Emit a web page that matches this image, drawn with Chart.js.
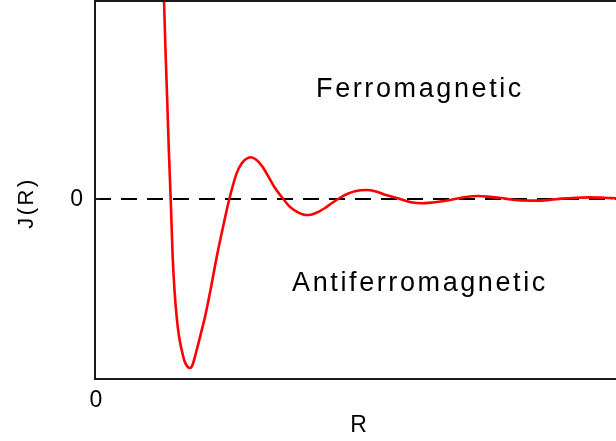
<!DOCTYPE html>
<html>
<head>
<meta charset="utf-8">
<script src="https://cdn.jsdelivr.net/npm/chart.js@4"></script>
<style>
  html, body { margin: 0; padding: 0; background: #fff; }
  #wrap { width: 616px; height: 441px; }
</style>
</head>
<body>
<div id="wrap"><canvas id="rkkyChart" width="616" height="441"></canvas></div>
<script>
// RKKY exchange coupling J(R) vs distance R (arbitrary units)
const rValues = [1.313, 1.353, 1.386, 1.417, 1.453, 1.491, 1.526, 1.568, 1.612, 1.664,
    1.718, 1.775, 1.823, 1.871, 1.952, 2.025, 2.111, 2.217, 2.336, 2.457,
    2.578, 2.720, 2.821, 2.898, 2.994, 3.090, 3.205, 3.321, 3.455, 3.614,
    3.743, 3.877, 3.992, 4.107, 4.242, 4.415, 4.549, 4.664, 4.818, 5.010,
    5.202, 5.393, 5.585, 5.854, 6.065, 6.276, 6.488, 6.699, 6.910, 7.121,
    7.351, 7.582, 7.869, 8.119, 8.407, 8.695, 8.964, 9.232, 9.501, 9.770, 10.0];
const jValues = [12.17, 8.28, 5.50, 2.72, 0, -3.22, -5.06, -6.56, -7.61, -8.39,
    -9.00, -9.31, -9.39, -9.22, -8.39, -7.56, -6.56, -5.06, -3.22, -1.56,
    0, 1.44, 2.00, 2.22, 2.32, 2.19, 1.83, 1.28, 0.61, 0,
    -0.44, -0.72, -0.86, -0.89, -0.78, -0.50, -0.22, 0, 0.25, 0.44,
    0.50, 0.42, 0.22, 0, -0.18, -0.24, -0.19, -0.11, 0, 0.11,
    0.17, 0.12, 0.02, -0.07, -0.09, -0.06, 0.02, 0.07, 0.09, 0.07, 0.04];

const rRange = [0, 10];
const jRange = [-10, 11];
const yTickLabels = ['0'];
const xTickLabels = ['0'];
const regionLabels = ['Ferromagnetic', 'Antiferromagnetic'];

const FONT = '"Liberation Sans", Arial, sans-serif';

// Frame, ticks, axis titles and region labels
const decorations = {
    id: 'decorations',
    afterDraw(chart) {
        const { ctx, chartArea, scales } = chart;
        const { left, right, top, bottom } = chartArea;
        const zeroY = scales.y.getPixelForValue(0);
        const zeroX = scales.x.getPixelForValue(0);

        ctx.save();
        ctx.strokeStyle = '#1a1a1a';
        ctx.lineWidth = 2;
        ctx.beginPath();
        ctx.moveTo(right + 2, top);
        ctx.lineTo(left, top);
        ctx.lineTo(left, bottom);
        ctx.lineTo(right + 2, bottom);
        ctx.stroke();

        // small tick at zero on the J axis
        ctx.beginPath();
        ctx.moveTo(left, zeroY);
        ctx.lineTo(left + 5, zeroY);
        ctx.stroke();

        ctx.fillStyle = '#000';
        ctx.font = '23px ' + FONT;
        ctx.textBaseline = 'middle';
        ctx.textAlign = 'right';
        ctx.fillText(yTickLabels[0], left - 12, zeroY + 1);
        ctx.textAlign = 'center';
        ctx.fillText(xTickLabels[0], zeroX + 1, bottom + 22);

        ctx.font = '23px ' + FONT;
        ctx.textBaseline = 'alphabetic';
        ctx.fillText('R', (left + right) / 2 + 3, bottom + 53);

        ctx.save();
        ctx.translate(33, zeroY + 4);
        ctx.rotate(-Math.PI / 2);
        ctx.font = '22px ' + FONT;
        ctx.letterSpacing = '2.5px';
        ctx.textAlign = 'center';
        ctx.fillText('J(R)', 0, 0);
        ctx.restore();

        ctx.font = '27px ' + FONT;
        ctx.letterSpacing = '2.6px';
        ctx.textAlign = 'center';
        ctx.fillText(regionLabels[0], 420, 97);
        ctx.fillText(regionLabels[1], 420, 291);
        ctx.restore();
    }
};

const ctx = document.getElementById('rkkyChart').getContext('2d');
new Chart(ctx, {
    type: 'line',
    data: {
        datasets: [
            {
                label: 'J(R)',
                data: rValues.map((r, i) => ({ x: r, y: jValues[i] })),
                borderColor: '#ff0000',
                borderWidth: 2.6,
                pointRadius: 0,
                cubicInterpolationMode: 'monotone',
                fill: false,
                order: 0
            },
            {
                label: 'zero',
                data: [{ x: rRange[0], y: 0 }, { x: rRange[1], y: 0 }],
                borderColor: '#000',
                borderWidth: 2,
                borderDash: [16, 10],
                pointRadius: 0,
                order: 1
            }
        ]
    },
    options: {
        responsive: false,
        animation: false,
        layout: { padding: { left: 95, top: 1, right: 0, bottom: 62 } },
        scales: {
            x: { type: 'linear', min: rRange[0], max: rRange[1], display: false },
            y: { type: 'linear', min: jRange[0], max: jRange[1], display: false }
        },
        plugins: {
            legend: { display: false },
            tooltip: { enabled: false }
        }
    },
    plugins: [decorations]
});
</script>
</body>
</html>
